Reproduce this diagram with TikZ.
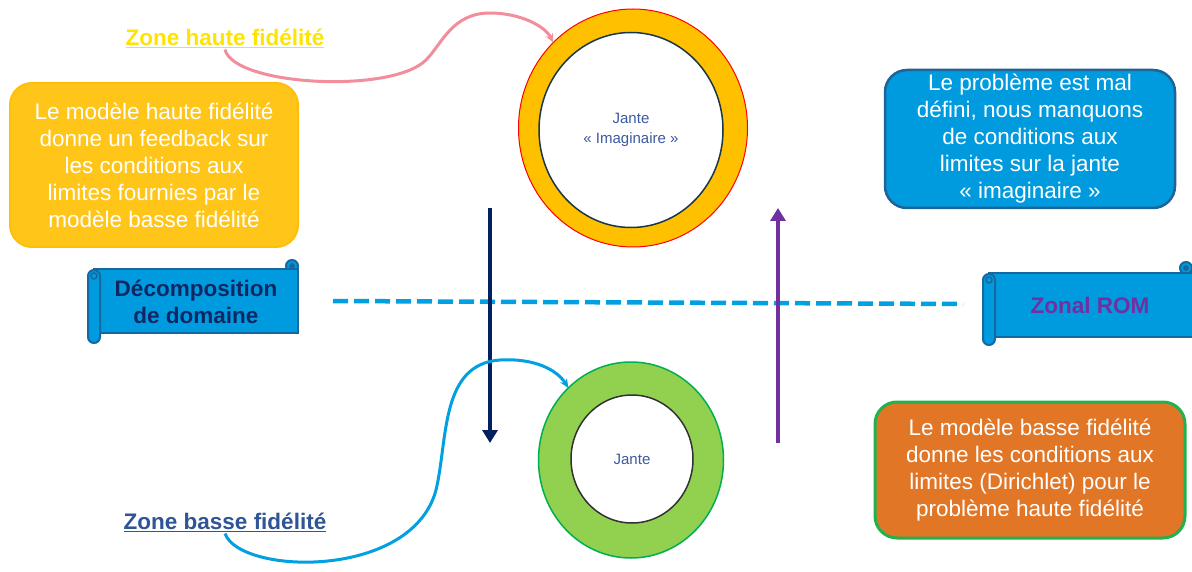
\documentclass[tikz,border=0pt]{standalone}
\usepackage{fontspec}
\setmainfont{Liberation Sans}
\usetikzlibrary{shapes.geometric,arrows.meta}

\definecolor{ringyellow}{RGB}{255,192,0}
\definecolor{ringgreen}{RGB}{146,208,80}
\definecolor{ringgreenline}{RGB}{0,176,80}
\definecolor{jantetext}{RGB}{60,90,160}
\definecolor{hautefill}{RGB}{255,197,25}
\definecolor{hautedraw}{RGB}{255,190,10}
\definecolor{probfill}{RGB}{0,155,222}
\definecolor{probdraw}{RGB}{30,100,150}
\definecolor{dirifill}{RGB}{224,118,38}
\definecolor{diridraw}{RGB}{34,177,76}
\definecolor{scrolldraw}{RGB}{20,105,160}
\definecolor{decotext}{RGB}{15,40,100}
\definecolor{rompurple}{RGB}{112,48,160}
\definecolor{zoneyellow}{RGB}{255,228,0}
\definecolor{zoneblue}{RGB}{47,85,151}
\definecolor{pinkcurve}{RGB}{242,142,155}
\definecolor{bluecurve}{RGB}{0,160,225}
\definecolor{navyarrow}{RGB}{0,32,96}

\tikzset{
  infobox/.style={rounded corners=22pt, align=center, text=white, line width=2pt,
                  inner sep=0pt, font=\fontsize{22.5}{27}\selectfont},
  ringnode/.style={ellipse, outer sep=0pt, inner sep=0pt},
  scroll/.style={fill=probfill, draw=scrolldraw, line width=2pt},
  zonelabel/.style={font=\fontsize{22.5}{26}\bfseries, inner sep=2pt},
  curvelink/.style={line width=3pt, -{Stealth[length=9pt,width=8pt]}},
  flowarrow/.style={line width=3.5pt, -{Triangle[length=13pt,width=15pt]}}
}

\begin{document}
\begin{tikzpicture}[x=1pt,y=-1pt]
    \useasboundingbox (0,0) rectangle (1192,572);
    \fill[white] (0,0) rectangle (1192,572);

    % anneau haute fidelite
    \node[ringnode, fill=ringyellow, draw=red, line width=1pt,
          minimum width=229pt, minimum height=238pt] (hring) at (633,128) {};
    \node[ringnode, fill=white, draw={rgb,255:red,25;green,55;blue,75}, line width=1.5pt,
          minimum width=184pt, minimum height=195pt, align=center, text=jantetext,
          font=\fontsize{15}{20}\selectfont] (hjante) at (631,130) {Jante\\« Imaginaire »};

    % anneau basse fidelite
    \node[ringnode, fill=ringgreen, draw=ringgreenline, line width=1.5pt,
          minimum width=185pt, minimum height=196pt] (lring) at (631,460) {};
    \node[ringnode, fill=white, draw={rgb,255:red,50;green,50;blue,50}, line width=1.5pt,
          minimum width=122pt, minimum height=128pt, text=jantetext,
          font=\fontsize{15}{18}\selectfont] (ljante) at (632,459) {Jante};

    % boites de texte
    \node[infobox, fill=hautefill, draw=hautedraw, minimum width=288pt, minimum height=164pt]
        (feedback) at (154,165) {Le modèle haute fidélité\\donne un feedback sur\\les conditions aux\\limites fournies par le\\modèle basse fidélité};
    \node[infobox, fill=probfill, draw=probdraw, line width=2.5pt, minimum width=290pt, minimum height=138pt]
        (probleme) at (1030,139) {Le problème est mal\\défini, nous manquons\\de conditions aux\\limites sur la jante\\« imaginaire »};
    \node[infobox, fill=dirifill, draw=diridraw, line width=3pt, minimum width=310pt, minimum height=136pt]
        (dirichlet) at (1030,470) {Le modèle basse fidélité\\donne les conditions aux\\limites (Dirichlet) pour le\\problème haute fidélité};

    % parchemin gauche
    \filldraw[scroll] (292,266) circle (6);
    \filldraw[scroll] (94,269) rectangle (298,333);
    \fill[scrolldraw] (292,266) circle (3);
    \filldraw[scroll, rounded corners=6] (88,270) rectangle (100,343);
    \draw[scrolldraw, line width=1.5pt] (94,276) circle (3);
    \node[font=\fontsize{22.5}{27}\bfseries, text=decotext, align=center] (decomp) at (196,302) {Décomposition\\de domaine};

    % parchemin droit
    \filldraw[scroll] (1186,268) circle (6);
    \filldraw[scroll] (989,273) rectangle (1196,337);
    \fill[scrolldraw] (1186,268) circle (3);
    \filldraw[scroll, rounded corners=6] (983,274) rectangle (995,345);
    \draw[scrolldraw, line width=1.5pt] (989,280) circle (3);
    \node[font=\fontsize{22.5}{27}\bfseries, text=rompurple] (zonalrom) at (1090,305) {Zonal ROM};

    % interface
    \coordinate (ileft) at (333,301);
    \coordinate (iright) at (963,304);
    \draw[bluecurve, line width=4.5pt, dash pattern=on 15pt off 6pt] (ileft) -- (iright);

    % fleches de couplage
    \coordinate (dtop) at (490,208);
    \coordinate (dbot) at (490,443);
    \coordinate (ubot) at (778,443);
    \coordinate (utop) at (778,208);
    \draw[flowarrow, navyarrow] (dtop) -- (dbot);
    \draw[flowarrow, rompurple] (ubot) -- (utop);

    % etiquettes des zones
    \node[zonelabel, text=zoneyellow] (zhaute) at (225,38) {\underline{Zone haute fidélité}};
    \node[zonelabel, text=zoneblue] (zbasse) at (225,522) {\underline{Zone basse fidélité}};

    \draw[curvelink, pinkcurve] (zhaute.south) .. controls (234,86) and (392,94) .. (426,60)
        .. controls (442,44) and (452,13) .. (490,13)
        .. controls (520,13) and (545,26) .. (hring.133);
    \draw[curvelink, bluecurve] (zbasse.south) .. controls (240,575) and (412,580) .. (436,490)
        .. controls (448,440) and (440,364) .. (500,360)
        .. controls (535,358) and (557,370) .. (lring.131);
\end{tikzpicture}
\end{document}
